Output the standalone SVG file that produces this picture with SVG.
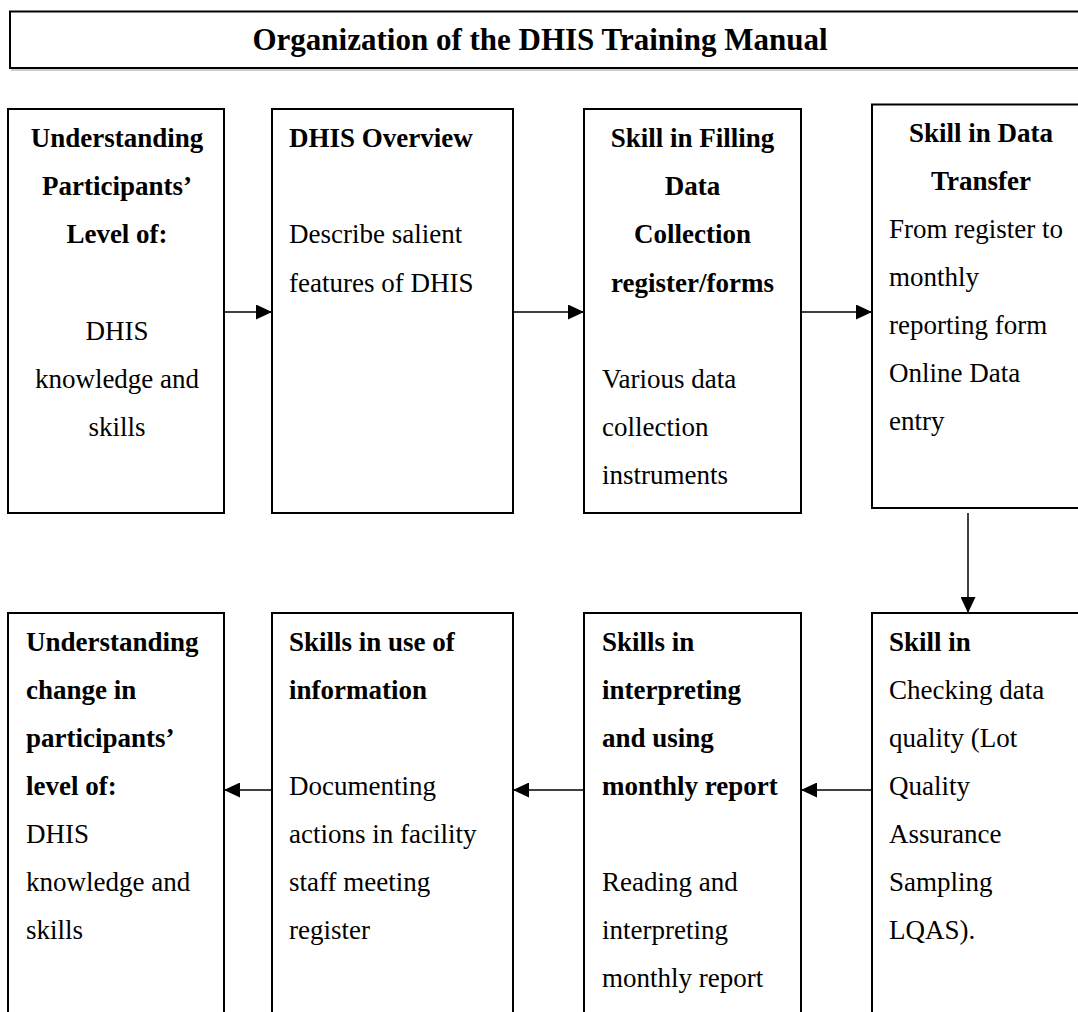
<svg xmlns="http://www.w3.org/2000/svg" width="1078" height="1012" viewBox="0 0 1078 1012">
  <style>
    .box { fill: #ffffff; stroke: #000000; stroke-width: 2; }
    .conn { fill: none; stroke: #000000; stroke-width: 1.5; }
    text { font-family: "Liberation Serif", "Times New Roman", serif; font-size: 27px; fill: #000000; }
    .b { font-weight: bold; }
    .c { text-anchor: middle; }
    .title { font-size: 31px; font-weight: bold; text-anchor: middle; }
  </style>
  <defs>
    <marker id="arrow" markerUnits="userSpaceOnUse" markerWidth="16" markerHeight="15" refX="16" refY="7.5" orient="auto">
      <path d="M0,0 L16,7.5 L0,15 Z" fill="#000000"/>
    </marker>
  </defs>

  <rect width="1078" height="1012" fill="#ffffff"/>

  <!-- Heading -->
  <g id="heading">
    <line x1="11" y1="70" x2="1090" y2="70" stroke="#9a9a9a" stroke-width="1"/>
    <rect class="box" x="10" y="11.5" width="1080" height="56.5"/>
    <text class="title" x="540" y="50">Organization of the DHIS Training Manual</text>
  </g>

  <!-- Top row -->
  <g id="node-understanding-level">
    <rect class="box" x="8" y="109" width="216" height="404"/>
    <text class="b c" x="117" y="147">Understanding</text>
    <text class="b c" x="117" y="195">Participants’</text>
    <text class="b c" x="117" y="243">Level of:</text>
    <text class="c" x="117" y="340">DHIS</text>
    <text class="c" x="117" y="388">knowledge and</text>
    <text class="c" x="117" y="436">skills</text>
  </g>

  <g id="node-dhis-overview">
    <rect class="box" x="272" y="109" width="241" height="404"/>
    <text class="b" x="289" y="147">DHIS Overview</text>
    <text x="289" y="243">Describe salient</text>
    <text x="289" y="292">features of DHIS</text>
  </g>

  <g id="node-filling-data">
    <rect class="box" x="584" y="109" width="217" height="404"/>
    <text class="b c" x="692.5" y="147">Skill in Filling</text>
    <text class="b c" x="692.5" y="195">Data</text>
    <text class="b c" x="692.5" y="243">Collection</text>
    <text class="b c" x="692.5" y="292">register/forms</text>
    <text x="602" y="388">Various data</text>
    <text x="602" y="436">collection</text>
    <text x="602" y="484">instruments</text>
  </g>

  <g id="node-data-transfer">
    <rect class="box" x="872" y="104.5" width="218" height="403.5"/>
    <text class="b c" x="981" y="142">Skill in Data</text>
    <text class="b c" x="981" y="190">Transfer</text>
    <text x="889" y="238">From register to</text>
    <text x="889" y="286">monthly</text>
    <text x="889" y="334">reporting form</text>
    <text x="889" y="382">Online Data</text>
    <text x="889" y="430">entry</text>
  </g>

  <!-- Bottom row -->
  <g id="node-data-quality">
    <rect class="box" x="872" y="613" width="218" height="420"/>
    <text class="b" x="889" y="651">Skill in</text>
    <text x="889" y="699">Checking data</text>
    <text x="889" y="747">quality (Lot</text>
    <text x="889" y="795">Quality</text>
    <text x="889" y="843">Assurance</text>
    <text x="889" y="891">Sampling</text>
    <text x="889" y="939">LQAS).</text>
  </g>

  <g id="node-monthly-report">
    <rect class="box" x="584" y="613" width="217" height="420"/>
    <text class="b" x="602" y="651">Skills in</text>
    <text class="b" x="602" y="699">interpreting</text>
    <text class="b" x="602" y="747">and using</text>
    <text class="b" x="602" y="795">monthly report</text>
    <text x="602" y="891">Reading and</text>
    <text x="602" y="939">interpreting</text>
    <text x="602" y="987">monthly report</text>
  </g>

  <g id="node-use-of-information">
    <rect class="box" x="272" y="613" width="241" height="420"/>
    <text class="b" x="289" y="651">Skills in use of</text>
    <text class="b" x="289" y="699">information</text>
    <text x="289" y="795">Documenting</text>
    <text x="289" y="843">actions in facility</text>
    <text x="289" y="891">staff meeting</text>
    <text x="289" y="939">register</text>
  </g>

  <g id="node-understanding-change">
    <rect class="box" x="8" y="613" width="216" height="420"/>
    <text class="b" x="26" y="651">Understanding</text>
    <text class="b" x="26" y="699">change in</text>
    <text class="b" x="26" y="747">participants’</text>
    <text class="b" x="26" y="795">level of:</text>
    <text x="26" y="843">DHIS</text>
    <text x="26" y="891">knowledge and</text>
    <text x="26" y="939">skills</text>
  </g>

  <!-- Connectors -->
  <g id="connectors">
    <line class="conn" x1="224" y1="312" x2="272" y2="312" marker-end="url(#arrow)"/>
    <line class="conn" x1="513" y1="312" x2="584" y2="312" marker-end="url(#arrow)"/>
    <line class="conn" x1="801" y1="312" x2="872" y2="312" marker-end="url(#arrow)"/>
    <line class="conn" x1="968" y1="513" x2="968" y2="613" marker-end="url(#arrow)"/>
    <line class="conn" x1="872" y1="790" x2="801" y2="790" marker-end="url(#arrow)"/>
    <line class="conn" x1="584" y1="790" x2="513" y2="790" marker-end="url(#arrow)"/>
    <line class="conn" x1="272" y1="790" x2="224" y2="790" marker-end="url(#arrow)"/>
  </g>
</svg>
